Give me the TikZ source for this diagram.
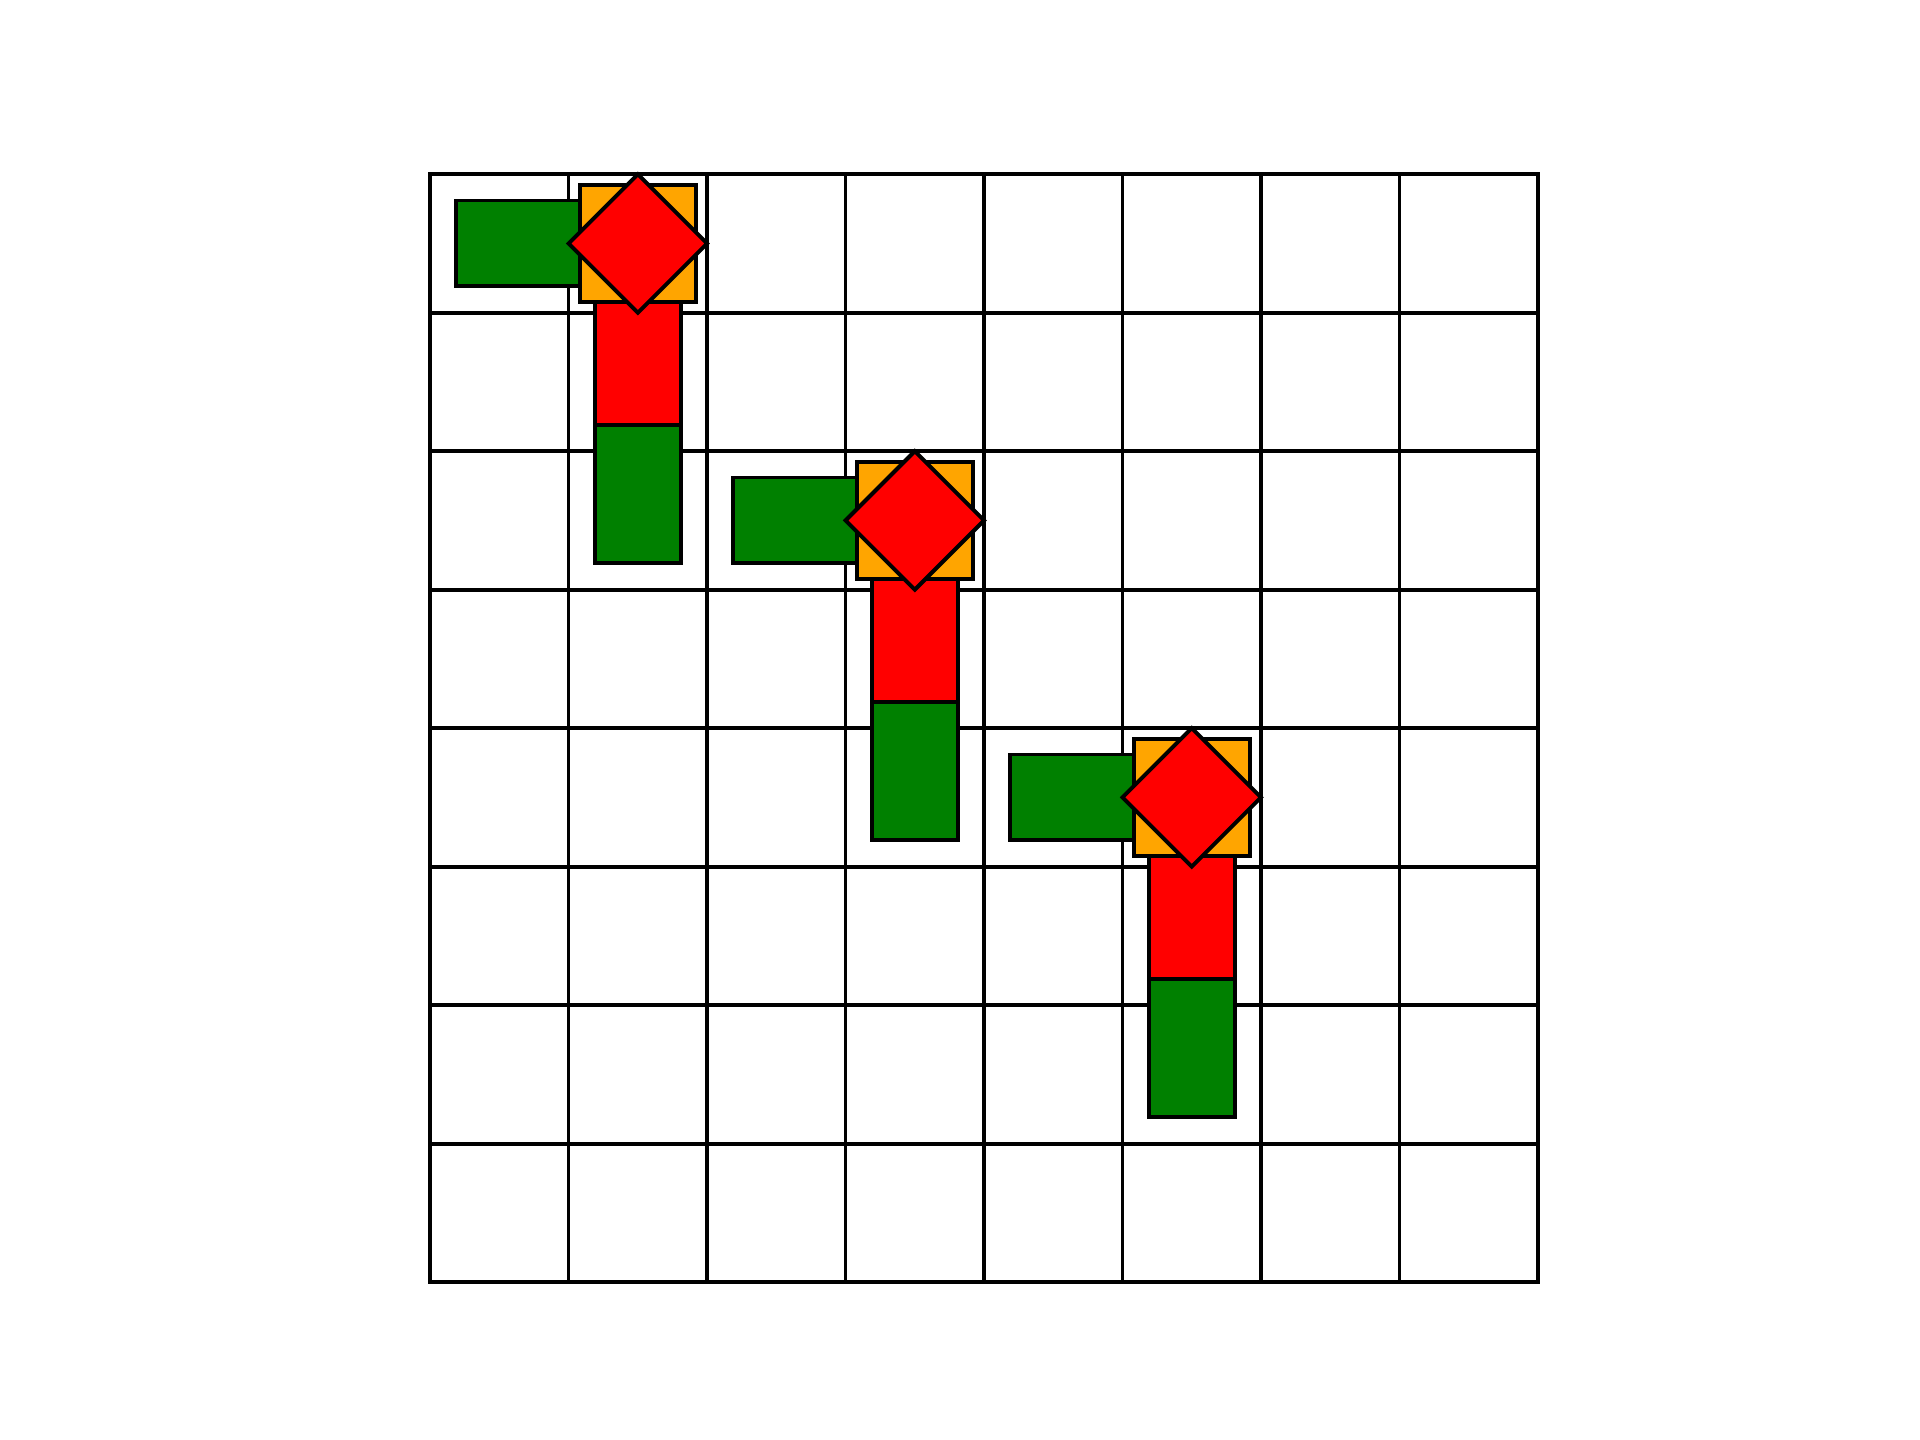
\documentclass[tikz,border=0pt]{standalone}
\usepackage{xcolor}
\usepackage{tikz}
\usetikzlibrary{calc}
\definecolor{piece-green}{HTML}{008000}
\definecolor{piece-orange}{HTML}{FFA500}
\definecolor{piece-red}{HTML}{FF0000}

\begin{document}
\begin{tikzpicture}[
    gridline/.style={draw=black, line width=0.8pt, line cap=rect},
    piece/.style={draw=black, line width=0.8pt, line join=miter},
]
    \useasboundingbox (-3.105,-1.139) rectangle (10.758,9.258);

    % Board
    \draw[gridline] (0,0) grid (8,8);
    \draw[gridline] (0,0) rectangle (8,8);

    % Pieces
    \foreach \cx/\cy in {1.5/7.5, 3.5/5.5, 5.5/3.5} {
        \draw[piece, fill=piece-green] (\cx-1.31,\cy-0.31) rectangle (\cx,\cy+0.31);
        \draw[piece, fill=piece-red]   (\cx-0.31,\cy-1.31) rectangle (\cx+0.31,\cy);
        \draw[piece, fill=piece-green] (\cx-0.31,\cy-2.31) rectangle (\cx+0.31,\cy-1.31);
        \draw[piece, fill=piece-orange] (\cx-0.42,\cy-0.42) rectangle (\cx+0.42,\cy+0.42);
        \draw[piece, fill=piece-red]
            (\cx,\cy+0.5) -- (\cx+0.5,\cy) -- (\cx,\cy-0.5) -- (\cx-0.5,\cy) -- cycle;
    }
\end{tikzpicture}
\end{document}
